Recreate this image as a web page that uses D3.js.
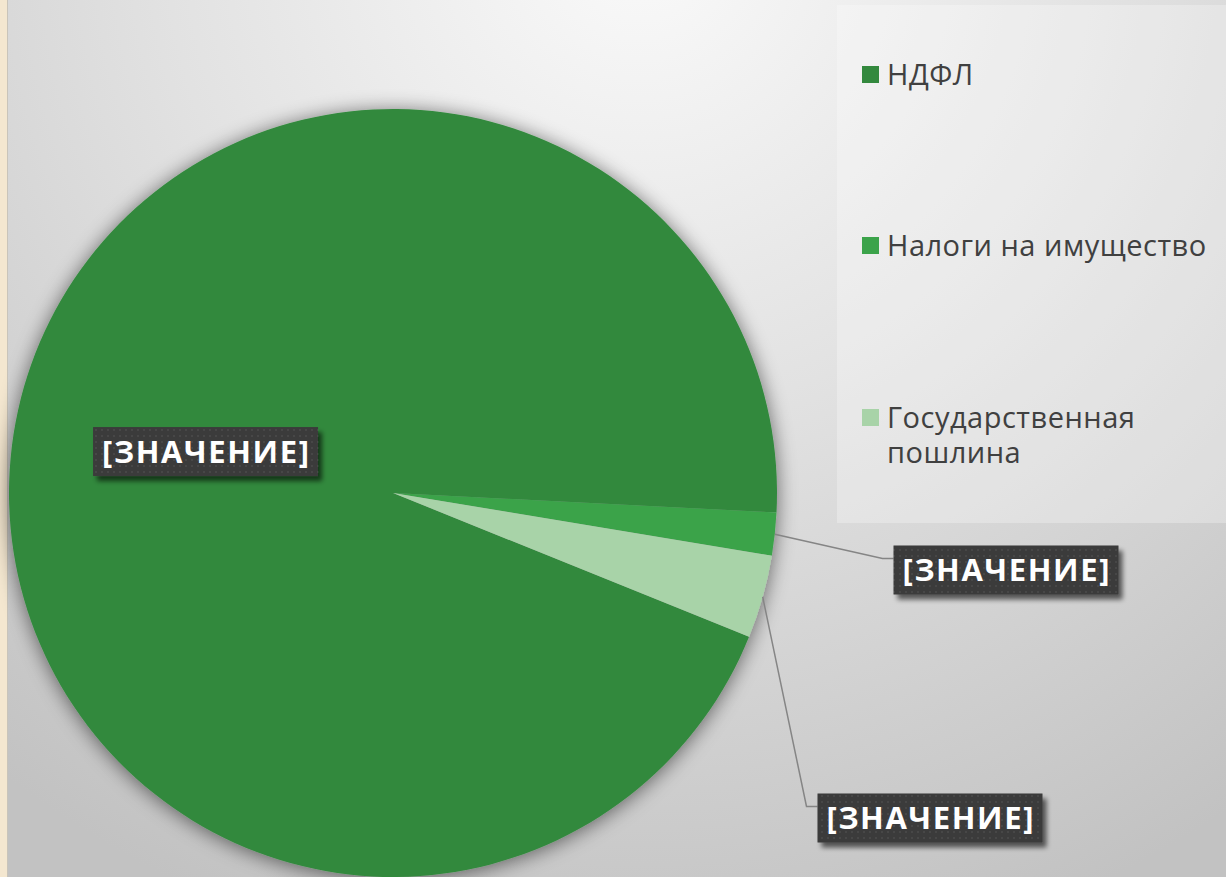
<!DOCTYPE html>
<html><head><meta charset="utf-8">
<script src="https://cdn.jsdelivr.net/npm/d3@7"></script>
<style>html,body{margin:0;padding:0;overflow:hidden;background:#fff}</style>
</head><body>
<svg id="chart" width="1226" height="877"></svg>
<script>
// ---- data ----
const categories = ["НДФЛ", "Налоги на имущество", "Государственная пошлина"];
const values = [94.7, 1.8, 3.5];
const labelTexts = ["[ЗНАЧЕНИЕ]", "[ЗНАЧЕНИЕ]", "[ЗНАЧЕНИЕ]"];
const legendLines = [["НДФЛ"], ["Налоги на имущество"], ["Государственная", "пошлина"]];
const colors = ["#33893e", "#3ba34a", "#a8d3a8"];

// ---- layout ----
const W = 1226, H = 877;
const cx = 393, cy = 493, R = 384;
const firstSliceAngle = 112; // degrees
const boxW = 225, boxH = 49;
// custom label box centres relative to pie centre (null = arc centroid)
const labelOffsets = [null, [613, 77], [537, 325]];

const svg = d3.select("#chart");
const defs = svg.append("defs");

const bg = defs.append("radialGradient").attr("id", "bg")
  .attr("gradientUnits", "userSpaceOnUse")
  .attr("cx", 640).attr("cy", -60).attr("r", 1050);
bg.append("stop").attr("offset", "0").attr("stop-color", "#fafafa");
bg.append("stop").attr("offset", "0.45").attr("stop-color", "#e2e2e2");
bg.append("stop").attr("offset", "1").attr("stop-color", "#c2c2c2");

const pieShadow = defs.append("filter").attr("id", "pieShadow")
  .attr("x", "-20%").attr("y", "-20%").attr("width", "140%").attr("height", "140%");
pieShadow.append("feGaussianBlur").attr("in", "SourceAlpha").attr("stdDeviation", 10).attr("result", "b");
pieShadow.append("feOffset").attr("in", "b").attr("dx", 0).attr("dy", 2).attr("result", "o");
pieShadow.append("feComponentTransfer").attr("in", "o").attr("result", "s")
  .append("feFuncA").attr("type", "linear").attr("slope", 0.55);
const m1 = pieShadow.append("feMerge");
m1.append("feMergeNode").attr("in", "s");
m1.append("feMergeNode").attr("in", "SourceGraphic");

const boxShadow = defs.append("filter").attr("id", "boxShadow")
  .attr("x", "-20%").attr("y", "-40%").attr("width", "140%").attr("height", "180%");
boxShadow.append("feGaussianBlur").attr("in", "SourceAlpha").attr("stdDeviation", 2.5).attr("result", "b");
boxShadow.append("feOffset").attr("in", "b").attr("dx", 4).attr("dy", 5).attr("result", "o");
boxShadow.append("feComponentTransfer").attr("in", "o").attr("result", "s")
  .append("feFuncA").attr("type", "linear").attr("slope", 0.6);
const m2 = boxShadow.append("feMerge");
m2.append("feMergeNode").attr("in", "s");
m2.append("feMergeNode").attr("in", "SourceGraphic");

const pat = defs.append("pattern").attr("id", "dots")
  .attr("patternUnits", "userSpaceOnUse").attr("width", 6).attr("height", 6);
pat.append("rect").attr("width", 6).attr("height", 6).attr("fill", "#3a3a3a");
pat.append("circle").attr("cx", 3).attr("cy", 3).attr("r", 1).attr("fill", "#4b4b4b");

// background
svg.append("rect").attr("width", W).attr("height", H).attr("fill", "url(#bg)");
svg.append("rect").attr("x", 0).attr("y", 0).attr("width", 7).attr("height", H).attr("fill", "#f4e7d0");
svg.append("rect").attr("x", 7).attr("y", 0).attr("width", 1).attr("height", H).attr("fill", "#c9c4ba");

// legend area
svg.append("rect").attr("x", 837).attr("y", 5).attr("width", 389).attr("height", 518)
  .attr("fill", "#ffffff").attr("fill-opacity", 0.28);

// pie
const pie = d3.pie().sort(null).value(d => d)
  .startAngle(firstSliceAngle * Math.PI / 180)
  .endAngle(firstSliceAngle * Math.PI / 180 + 2 * Math.PI);
const arcs = pie(values);
const arc = d3.arc().innerRadius(0).outerRadius(R);
const outerArc = d3.arc().innerRadius(R).outerRadius(R);

const g = svg.append("g").attr("transform", `translate(${cx},${cy})`);
const pg = g.append("g").attr("filter", "url(#pieShadow)");
pg.selectAll("path").data(arcs).join("path")
  .attr("d", arc).attr("fill", (d, i) => colors[i]);

// labels
const font = "'Open Sans', 'Noto Sans', sans-serif";
arcs.forEach((d, i) => {
  let lx, ly;
  if (labelOffsets[i]) { lx = labelOffsets[i][0]; ly = labelOffsets[i][1]; }
  else { const c = arc.centroid(d); lx = c[0]; ly = c[1]; }
  const bx = lx - boxW / 2, by = ly - boxH / 2;
  if (labelOffsets[i]) {
    const p = outerArc.centroid(d);
    g.append("polyline")
      .attr("points", [[p[0], p[1]], [bx - 11, by + 13], [bx, by + 13]].map(q => q.join(",")).join(" "))
      .attr("fill", "none").attr("stroke", "#858585").attr("stroke-width", 1.5);
  }
  const lg = g.append("g");
  lg.append("rect").attr("x", bx).attr("y", by).attr("width", boxW).attr("height", boxH)
    .attr("fill", "url(#dots)").attr("filter", "url(#boxShadow)");
  lg.append("text").attr("x", lx).attr("y", ly + 11)
    .attr("text-anchor", "middle").attr("fill", "#ffffff")
    .attr("font-family", font).attr("font-weight", "bold").attr("font-size", 31)
    .attr("textLength", 207).attr("lengthAdjust", "spacing")
    .text(labelTexts[i]);
});

// legend
const legendY = [75, 246, 418];
const lgd = svg.append("g");
categories.forEach((c, i) => {
  lgd.append("rect").attr("x", 862).attr("y", legendY[i] - 9).attr("width", 17).attr("height", 17)
    .attr("fill", colors[i]);
  const t = lgd.append("text").attr("x", 887).attr("y", legendY[i] + 10)
    .attr("fill", "#404040").attr("font-family", font).attr("font-size", 29)
    .attr("letter-spacing", 0.5);
  legendLines[i].forEach((ln, j) => {
    t.append("tspan").attr("x", 887).attr("dy", j === 0 ? 0 : 35).text(ln);
  });
});
</script>
</body></html>
